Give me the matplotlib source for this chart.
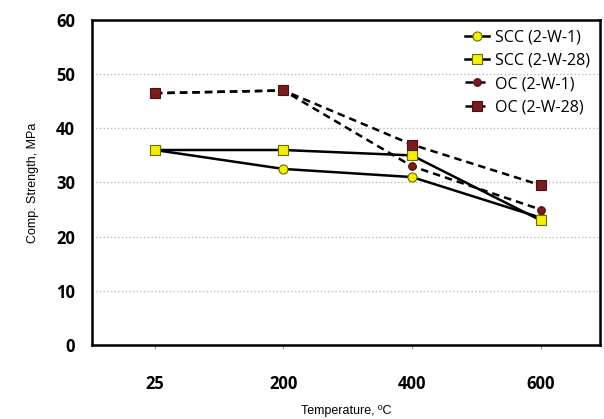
import numpy as np
import matplotlib.pyplot as plt

temps = ['25', '200', '400', '600']
scc_w1 = [36, 32.5, 31, 23.5]
scc_w28 = [36, 36, 35, 23]
oc_w1 = [46.5, 47, 33, 25]
oc_w28 = [46.5, 47, 37, 29.5]

fig = plt.figure(figsize=(6.04, 4.19), dpi=100)
ax = fig.add_axes([0.152, 0.177, 0.841, 0.775])
x = np.arange(len(temps))

ax.plot(x, scc_w1, '-', color='black', lw=1.8, marker='o', ms=6.5,
        mfc='#f5f000', mec='#6b6b00', mew=0.8, label='SCC (2-W-1)', zorder=3)
ax.plot(x, scc_w28, '-', color='black', lw=1.8, marker='s', ms=6.5,
        mfc='#f5f000', mec='#6b6b00', mew=0.8, label='SCC (2-W-28)', zorder=3)
ax.plot(x, oc_w1, '--', color='black', lw=1.8, dashes=(3, 2), marker='o', ms=5.5,
        mfc='#7a1c1c', mec='#4a0f0f', mew=0.8, label='OC (2-W-1)', zorder=3)
ax.plot(x, oc_w28, '--', color='black', lw=1.8, dashes=(3, 2), marker='s', ms=6.5,
        mfc='#7a1c1c', mec='#4a0f0f', mew=0.8, label='OC (2-W-28)', zorder=3)

ax.set_xlim(-0.49, 3.46)
ax.set_ylim(0, 60)
ax.set_yticks(range(0, 61, 10))
ax.set_xticks(x)
ax.set_xticklabels(temps)
ax.yaxis.grid(True, linestyle=':', color='#bbbbbb', lw=1)
ax.set_axisbelow(True)

for s in ax.spines.values():
    s.set_linewidth(1.8)

ax.tick_params(axis='x', length=3, color='#999999', pad=19, labelsize=12)
ax.tick_params(axis='y', length=0, pad=12, labelsize=12)
for lbl in ax.get_xticklabels() + ax.get_yticklabels():
    lbl.set_family('Open Sans')
    lbl.set_fontweight('bold')

ax.set_xlabel('Temperature, \u00baC', fontsize=9, family='Liberation Sans', labelpad=8)
ax.set_ylabel('Comp. Strength, MPa', fontsize=9, family='Liberation Sans', labelpad=12)

leg = ax.legend(loc='upper right', frameon=False, handlelength=1.5,
                prop={'family': 'Open Sans', 'size': 11.5}, labelspacing=0.45,
                borderaxespad=0.2, handletextpad=0.4)

fig.savefig('out.png', dpi=100)
